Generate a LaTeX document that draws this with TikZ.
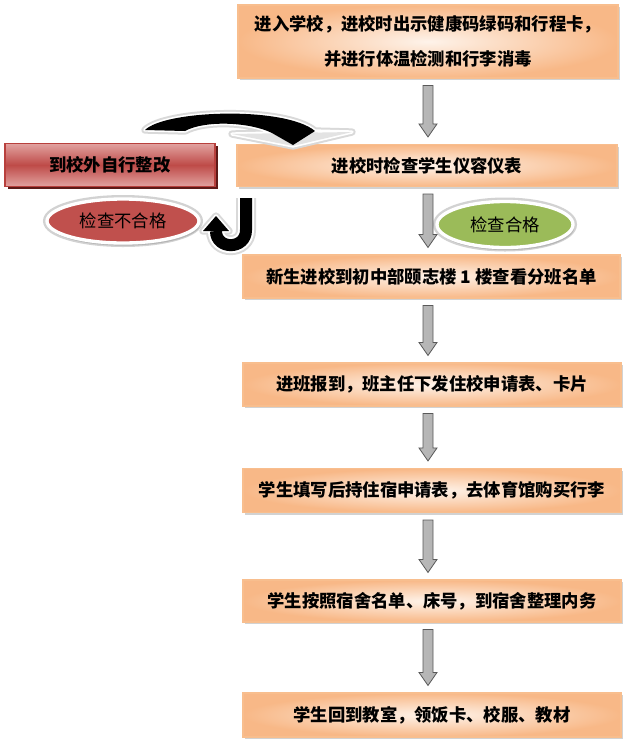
\documentclass[tikz,border=0pt]{standalone}
\usepackage{fontspec}
\newfontfamily\cjk{Noto Sans CJK SC}
\usetikzlibrary{shadows,calc,shapes.geometric}
\definecolor{orL}{HTML}{FEF3EA}
\definecolor{orD}{HTML}{F8B887}
\definecolor{orB}{HTML}{F8BE8E}
\definecolor{rdL}{HTML}{E2A2A0}
\definecolor{rdM}{HTML}{BE4B48}
\definecolor{rdB}{HTML}{B8403D}
\definecolor{rdS}{HTML}{5E1A18}
\definecolor{elR}{HTML}{C0504D}
\definecolor{elG}{HTML}{9BBB59}
\def\mypx{0.75pt}
\newcommand\garrow[2]{%
  \path[garr] let \p1=($(col |- #1.south)+(0,7)$), \p2=($(col |- #2.north)+(0,-7)$) in
   (\x1-3.75pt,\y1) -- (\x1+3.75pt,\y1) -- (\x1+3.75pt,\y2+9.75pt) -- (\x1+6.75pt,\y2+9.75pt)
   -- (\x1,\y2) -- (\x1-6.75pt,\y2+9.75pt) -- (\x1-3.75pt,\y2+9.75pt) -- cycle;}
\begin{document}
\begin{tikzpicture}[x=0.75pt,y=-0.75pt,
  txt/.style={font=\cjk\bfseries\fontsize{13pt}{26pt}\selectfont, align=center, text=black},
  obox/.style={txt, draw=orB, line width=0.8pt, inner color=orL, outer color=orD,
    inner sep=0pt, drop shadow={shadow xshift=1.5pt, shadow yshift=-1.5pt, fill=gray!70, opacity=0.5}},
  rbox/.style={txt, draw=rdB, line width=0.8pt, top color=rdL, bottom color=rdL, middle color=rdM,
    inner sep=0pt, drop shadow={shadow xshift=2.2pt, shadow yshift=-2.2pt, fill=rdS, opacity=1}},
  ell/.style={ellipse, inner sep=0pt, font=\cjk\fontsize{13pt}{16pt}\selectfont, text=black,
    draw=white, line width=2.5pt, preaction={draw=gray!35, line width=6pt},
    drop shadow={shadow xshift=1pt, shadow yshift=-2pt, fill=gray, opacity=0.35}},
  garr/.style={draw=gray!70!black, line width=0.6pt, left color=gray!55, middle color=gray!8, right color=gray!60},
]
\useasboundingbox (0,0) rectangle (630,744);
\coordinate (col) at (428,0);

% boxes
\node[obox, minimum width=380*\mypx, minimum height=73*\mypx] (b1) at (428,41.5)
  {进入学校，进校时出示健康码绿码和行程卡，\\并进行体温检测和行李消毒};
\node[obox, minimum width=380*\mypx, minimum height=42*\mypx] (b2) at (427,165.5) {进校时检查学生仪容仪表};
\node[obox, minimum width=377*\mypx, minimum height=43*\mypx] (b3) at (431.5,276.5) {新生进校到初中部颐志楼 1 楼查看分班名单};
\node[obox, minimum width=378*\mypx, minimum height=43*\mypx] (b4) at (432,384.5) {进班报到，班主任下发住校申请表、卡片};
\node[obox, minimum width=378*\mypx, minimum height=44*\mypx] (b5) at (432,490.5) {学生填写后持住宿申请表，去体育馆购买行李};
\node[obox, minimum width=378*\mypx, minimum height=42*\mypx] (b6) at (432,601) {学生按照宿舍名单、床号，到宿舍整理内务};
\node[obox, minimum width=378*\mypx, minimum height=44*\mypx] (b7) at (432,715) {学生回到教室，领饭卡、校服、教材};

\node[rbox, minimum width=210*\mypx, minimum height=43*\mypx] (rb) at (110,165) {到校外自行整改};

% ellipses
\node[ell, fill=elR, minimum width=152*\mypx, minimum height=44*\mypx] (bad) at (123,221) {检查不合格};
\node[ell, fill=elG, minimum width=136*\mypx, minimum height=46*\mypx] (ok) at (505,224.5) {检查合格};

% block arrows
\garrow{b1}{b2}
\garrow{b2}{b3}
\garrow{b3}{b4}
\garrow{b4}{b5}
\garrow{b5}{b6}
\garrow{b6}{b7}

% curved arrow (top)
\def\curvepath{(145,130) .. controls (165,110) and (285,106) .. (315,131) -- (352,132) -- (293,146)
  -- (232,134) -- (272,133) .. controls (250,122) and (205,120) .. (185,131) -- cycle}
\draw[gray!30, line width=5.5pt, line join=round] \curvepath;
\draw[white, line width=2.5pt, line join=round] \curvepath;
\fill[gray!22] (232,134) -- (352,132) -- (293,146) -- cycle;
\fill[black] (145,130) .. controls (165,110) and (285,106) .. (315,131) -- (293,145)
  -- (272,133) .. controls (250,122) and (205,120) .. (185,131) -- cycle;

% J arrow
\def\jpath{(246,198) -- (246,230) .. controls (246,250) and (216,250) .. (216,231)}
\def\jhead{(203,231) -- (229,231) -- (216,216) -- cycle}
\draw[gray!30, line width=15pt] \jpath;
\draw[gray!30, line width=5.5pt, line join=round] \jhead;
\draw[white, line width=12pt] \jpath;
\draw[white, line width=2.5pt, line join=round] \jhead;
\draw[black, line width=9pt] \jpath;
\fill[black] \jhead;
\end{tikzpicture}
\end{document}
